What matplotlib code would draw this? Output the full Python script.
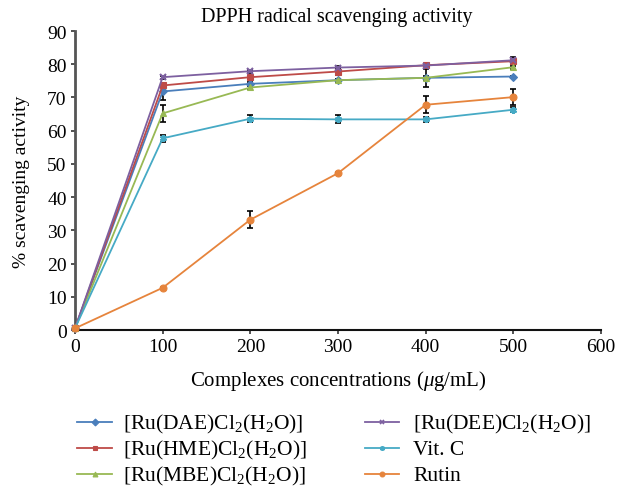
import matplotlib
matplotlib.use("Agg")
import matplotlib.pyplot as plt
from matplotlib.lines import Line2D

plt.rcParams['font.family'] = ['Liberation Serif', 'DejaVu Serif']
plt.rcParams['mathtext.fontset'] = 'custom'
plt.rcParams['mathtext.rm'] = 'Liberation Serif'
plt.rcParams['mathtext.it'] = 'Liberation Serif:italic'

conc = [0, 100, 200, 300, 400, 500]
labels = ["[Ru(DAE)Cl$_2$(H$_2$O)]", "[Ru(HME)Cl$_2$(H$_2$O)]", "[Ru(MBE)Cl$_2$(H$_2$O)]",
          "[Ru(DEE)Cl$_2$(H$_2$O)]", "Vit. C", "Rutin"]
dae = [0.5, 71.8, 74.1, 75.2, 75.9, 76.3]
hme = [0.5, 73.6, 76.1, 77.8, 79.7, 80.9]
mbe = [0.5, 65.2, 73.0, 75.2, 75.9, 79.1]
dee = [0.5, 76.1, 77.9, 79.0, 79.6, 81.2]
vitc = [0.5, 57.7, 63.6, 63.4, 63.4, 66.3]
rutin = [0.5, 12.7, 33.2, 47.2, 67.8, 70.1]
err_dae = [0, 2.5, 0.5, 0.5, 0.5, 0.3]
err_hme = [0, 0.5, 0.5, 1.0, 0.5, 0.5]
err_mbe = [0, 2.5, 0.5, 0.5, 2.7, 0.5]
err_dee = [0, 0.5, 0.5, 0.5, 0.5, 1.0]
err_vitc = [0, 1.0, 1.0, 1.2, 0.8, 0.8]
err_rutin = [0, 0.3, 2.5, 0.3, 2.5, 2.5]

series = [dae, hme, mbe, dee, vitc, rutin]
errs = [err_dae, err_hme, err_mbe, err_dee, err_vitc, err_rutin]
colors = ['#4A7EBB', '#BE4B48', '#98B954', '#7D60A0', '#46AAC5', '#E6843C']
markers = ['D', 's', '^', 'x', (6, 2, 0), 'o']
msizes = [4, 5, 5, 5, 5, 5]

W, H = 619, 489
fig = plt.figure(figsize=(W / 100, H / 100), dpi=100)
ax = fig.add_axes([75 / W, 1 - 331 / H, 526 / W, 299 / H])

handles = []
for y, e, c, m, ms, lab in zip(series, errs, colors, markers, msizes, labels):
    ax.errorbar(conc, y, yerr=e, fmt='none', ecolor='black', elinewidth=1.2, capsize=2, capthick=1.2, zorder=3)
    h, = ax.plot(conc, y, color=c, marker=m, markersize=ms, linewidth=1.3,
                 markeredgewidth=1.5 if (m == 'x' or isinstance(m, tuple)) else 0.8,
                 markeredgecolor=c, label=lab, zorder=4, clip_on=False)
    handles.append(h)

ax.set_xlim(0, 600)
ax.set_ylim(0, 90)
ax.set_xticks(range(0, 601, 100))
ax.set_yticks(range(0, 91, 10))
for s in ['top', 'right']:
    ax.spines[s].set_visible(False)
ax.spines['left'].set_color('#555555')
ax.spines['left'].set_linewidth(2.0)
ax.spines['bottom'].set_color('#111111')
ax.spines['bottom'].set_linewidth(1.5)
ax.tick_params(axis='both', labelsize=14, color='#333333', width=1.2, length=3, pad=3)
ax.set_title('DPPH radical scavenging activity', fontsize=14.5, pad=7, x=0.498)
ax.set_ylabel('% scavenging activity', fontsize=14, labelpad=12)
ax.set_xlabel('Complexes concentrations ($\\mathit{\\mu}$g/mL)', fontsize=15, labelpad=9)

# legend (two columns, drawn below the axes)
rows = [423, 449, 475]
cols = [(77, 112, 123), (365, 399, 413)]
for i, (h, lab) in enumerate(zip(handles, labels)):
    x0, x1, xt = cols[i // 3]
    yc = rows[i % 3]
    ln = Line2D([x0 / W, x1 / W], [1 - yc / H, 1 - yc / H], transform=fig.transFigure,
                color=h.get_color(), linewidth=1.3)
    fig.add_artist(ln)
    mk = Line2D([(x0 + x1) / 2 / W], [1 - yc / H], transform=fig.transFigure,
                color=h.get_color(), marker=h.get_marker(), markersize=3.5,
                markeredgewidth=1.2 if (h.get_marker() == 'x' or isinstance(h.get_marker(), tuple)) else 0.8,
                linestyle='none')
    fig.add_artist(mk)
    fig.text(xt / W, 1 - (yc + 6) / H, lab, fontsize=15.5, va='baseline', ha='left')

fig.savefig('out.png', dpi=100)
